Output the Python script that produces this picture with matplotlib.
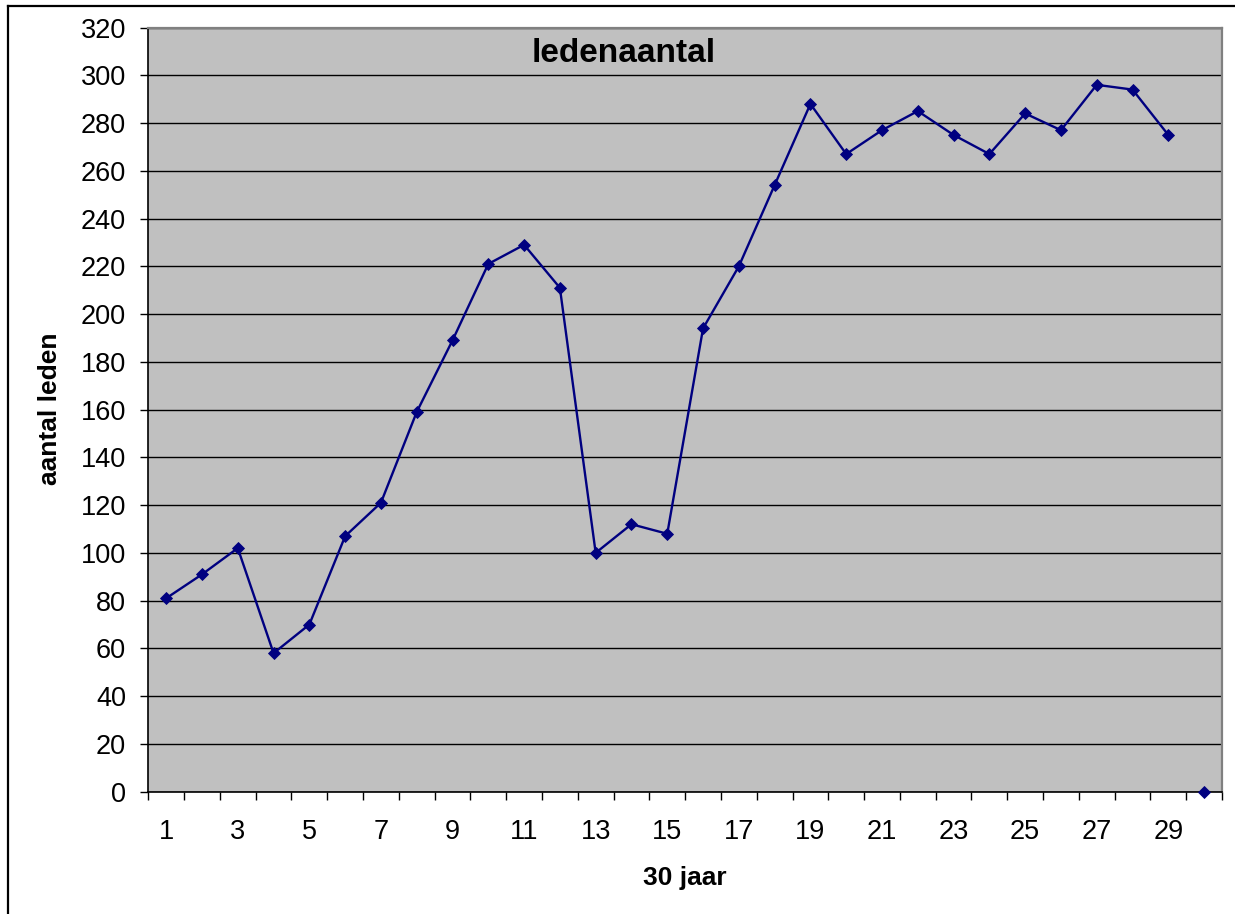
import matplotlib
matplotlib.use("Agg")
from matplotlib import pyplot as plt
from matplotlib.lines import Line2D
from matplotlib.ticker import FixedLocator, MultipleLocator

plt.rcParams["font.family"] = ["Liberation Sans", "DejaVu Sans"]

# data
years = list(range(1, 31))
members = [81, 91, 102, 58, 70, 107, 121, 159, 189, 221,
           229, 211, 100, 112, 108, 194, 220, 254, 288, 267,
           277, 285, 275, 267, 284, 277, 296, 294, 275, 0]
tick_years = list(range(1, 30, 2))

W, H, DPI = 1235, 914, 100
fig = plt.figure(figsize=(W / DPI, H / DPI), dpi=DPI, facecolor="white")

# plot area in pixels: left 148, right 1222, top 27.5, bottom 792
ax = fig.add_axes([148.3 / W, 1 - 791.7 / H, (1222 - 148.3) / W, (791.7 - 27.5) / H])
ax.set_facecolor("#c0c0c0")

navy = "#000080"
ax.plot(years[:-1], members[:-1], color=navy, lw=1.7, marker="D", ms=6.6,
        mec=navy, mfc=navy, mew=0.6, zorder=3)
ax.plot(years[-1:], members[-1:], ls="none", marker="D", ms=6.6,
        mec=navy, mfc=navy, mew=0.6, zorder=4, clip_on=False)

ax.set_xlim(0.5, 30.5)
ax.set_ylim(0, 320)

ax.yaxis.set_major_locator(MultipleLocator(20))
ax.grid(axis="y", color="black", lw=1.0, zorder=1)
ax.set_axisbelow(True)

# category axis: tick marks between categories, labels on odd years
ax.xaxis.set_major_locator(FixedLocator([x + 0.5 for x in range(0, 31)]))
ax.xaxis.set_minor_locator(FixedLocator(tick_years))
ax.set_xticklabels([], minor=False)
ax.set_xticklabels([str(v) for v in tick_years], minor=True)
ax.tick_params(axis="x", which="major", direction="out", length=6, width=1.0, color="black")
ax.tick_params(axis="x", which="minor", length=0, pad=20, labelsize=19.5)
ax.tick_params(axis="y", direction="out", length=6, width=1.0, color="black",
               pad=10, labelsize=19.5)

for side in ("left", "bottom"):
    ax.spines[side].set_color("black")
    ax.spines[side].set_linewidth(1.2)
for side in ("top", "right"):
    ax.spines[side].set_color("#808080")
    ax.spines[side].set_linewidth(1.6)

fig.text(624 / W, 1 - 53 / H, "ledenaantal", ha="center", va="center",
         fontsize=24, fontweight="bold")
fig.text(685 / W, 1 - 878 / H, "30 jaar", ha="center", va="center",
         fontsize=19, fontweight="bold")
fig.text(50 / W, 1 - 409 / H, "aantal leden", ha="center", va="center",
         rotation=90, fontsize=19, fontweight="bold")

# outer chart border (only top and left edges are inside the picture)
fig.add_artist(Line2D([8 / W, 1.0], [1 - 5.5 / H, 1 - 5.5 / H],
                      transform=fig.transFigure, color="black", lw=1.6))
fig.add_artist(Line2D([8 / W, 8 / W], [0.0, 1 - 5.5 / H],
                      transform=fig.transFigure, color="black", lw=1.6))

fig.savefig("out.png", dpi=DPI)
